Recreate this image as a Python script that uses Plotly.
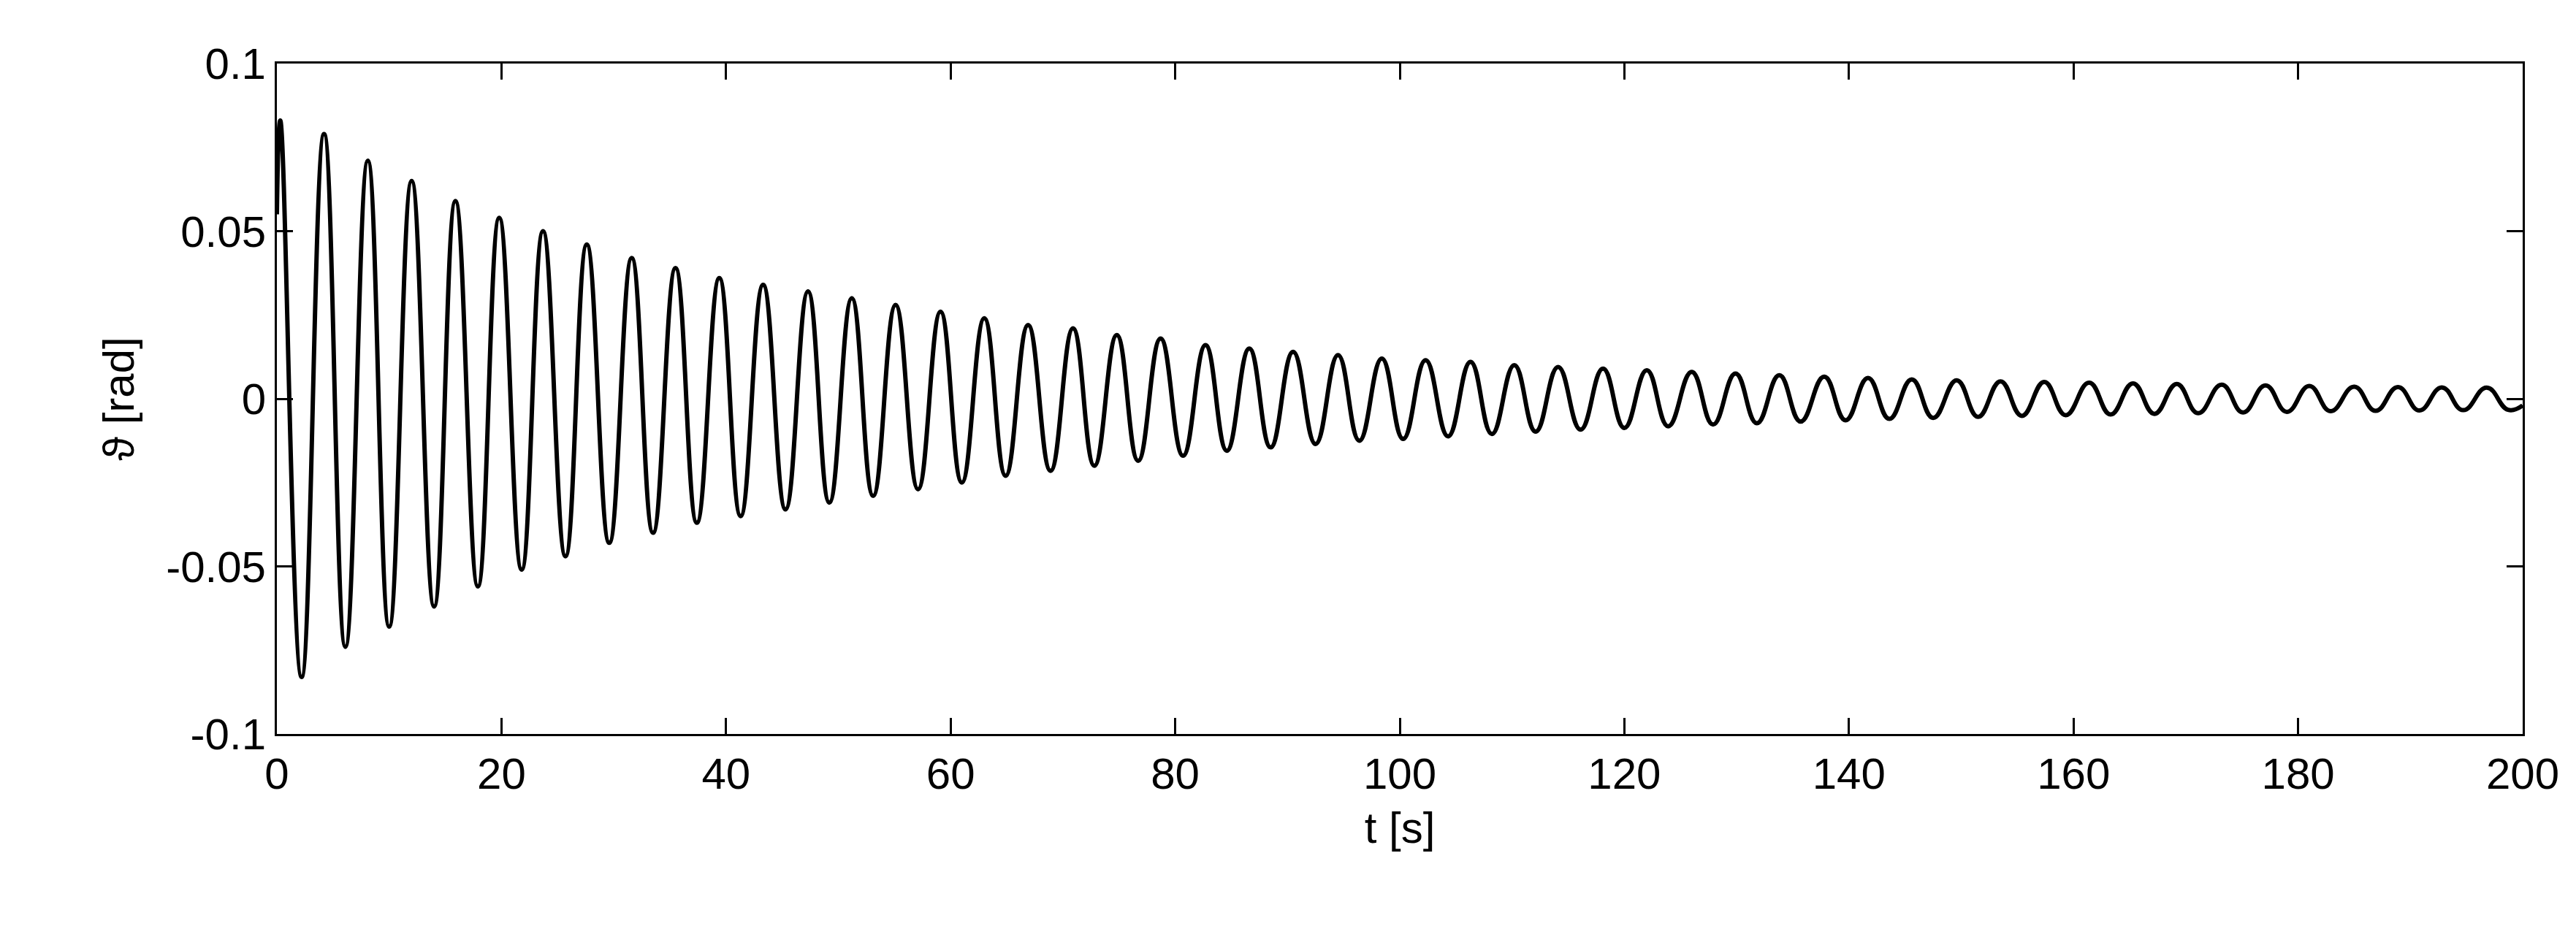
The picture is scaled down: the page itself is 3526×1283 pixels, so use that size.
import plotly.graph_objects as go

start_t = [0.0]
start_v = [0.055]
peak_t = [0.3, 4.2, 8.1, 12.0, 15.9, 19.8, 23.7, 27.6, 31.6, 35.5, 39.4, 43.3, 47.3, 51.2, 55.1, 59.1, 63.0, 66.9, 70.9, 74.8, 78.7, 82.7, 86.6, 90.5, 94.5, 98.4, 102.3, 106.3, 110.2, 114.1, 118.1, 122.0, 126.0, 129.9, 133.8, 137.8, 141.7, 145.6, 149.6, 153.5, 157.4, 161.4, 165.3, 169.2, 173.2, 177.1, 181.0, 185.0, 188.9, 192.8, 196.8]
peak_v = [0.083, 0.079, 0.071, 0.065, 0.059, 0.054, 0.050, 0.046, 0.042, 0.039, 0.036, 0.034, 0.032, 0.030, 0.028, 0.026, 0.024, 0.022, 0.021, 0.019, 0.018, 0.016, 0.015, 0.014, 0.013, 0.012, 0.0115, 0.011, 0.010, 0.0095, 0.009, 0.0085, 0.008, 0.0075, 0.007, 0.0066, 0.0062, 0.0058, 0.0055, 0.0052, 0.005, 0.0048, 0.0046, 0.0044, 0.0042, 0.004, 0.0038, 0.0036, 0.0035, 0.0034, 0.0033]
trough_t = [2.2, 6.1, 10.0, 14.0, 17.9, 21.8, 25.7, 29.6, 33.5, 37.4, 41.3, 45.3, 49.2, 53.1, 57.1, 61.0, 64.9, 68.9, 72.8, 76.7, 80.7, 84.6, 88.5, 92.5, 96.4, 100.3, 104.3, 108.2, 112.1, 116.1, 120.0, 123.9, 127.9, 131.8, 135.7, 139.7, 143.6, 147.5, 151.5, 155.4, 159.3, 163.3, 167.2, 171.1, 175.1, 179.0, 182.9, 186.9, 190.8, 194.7, 198.7]
trough_v = [-0.083, -0.074, -0.068, -0.062, -0.056, -0.051, -0.047, -0.043, -0.040, -0.037, -0.035, -0.033, -0.031, -0.029, -0.027, -0.025, -0.023, -0.0215, -0.020, -0.0185, -0.017, -0.0155, -0.0145, -0.0135, -0.0125, -0.012, -0.0112, -0.0105, -0.0098, -0.0092, -0.0087, -0.0082, -0.0077, -0.0073, -0.0068, -0.0064, -0.006, -0.0057, -0.0054, -0.0051, -0.0049, -0.0047, -0.0045, -0.0043, -0.0041, -0.0039, -0.0037, -0.0036, -0.0035, -0.0034, -0.0033]
end_t = [200.0]
end_v = [-0.002]

pts = sorted(zip(start_t + peak_t + trough_t + end_t, start_v + peak_v + trough_v + end_v))
t = [p[0] for p in pts]
v = [p[1] for p in pts]

fig = go.Figure(go.Scatter(x=t, y=v, mode="lines", line=dict(color="black", width=6, shape="spline", smoothing=1.3)))
font = dict(family="Liberation Sans, Arial", size=60, color="black")
ax = dict(showline=True, mirror="ticks", linecolor="black", linewidth=3, ticks="inside", ticklen=22,
          tickwidth=3, tickcolor="black", showgrid=False, zeroline=False, tickfont=font)
fig.update_layout(
    width=3526, height=1283, paper_bgcolor="white", plot_bgcolor="white", showlegend=False,
    margin=dict(l=371, r=81, t=79, b=286),
    xaxis=dict(range=[0, 200], tickvals=list(range(0, 201, 20)), title=dict(text="t [s]", font=font, standoff=20), **ax),
    yaxis=dict(range=[-0.1, 0.1], tickvals=[-0.1, -0.05, 0, 0.05, 0.1], ticktext=["-0.1", "-0.05", "0", "0.05", "0.1"],
               title=dict(text="ϑ [rad]", font=font, standoff=25), **ax),
)
fig.write_html("out.html")
